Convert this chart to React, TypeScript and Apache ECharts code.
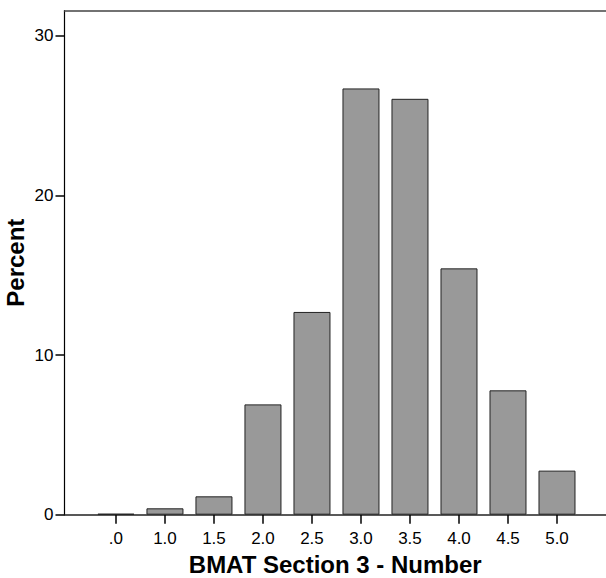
import React, { useEffect, useRef } from "react";
import * as echarts from "echarts";

const categories = [".0", "1.0", "1.5", "2.0", "2.5", "3.0", "3.5", "4.0", "4.5", "5.0"];
const percents = [0.06, 0.4, 1.15, 6.91, 12.7, 26.7, 26.05, 15.43, 7.79, 2.76];
const yTicks = [0, 10, 20, 30];
const xTitle = "BMAT Section 3 - Number";
const yTitle = "Percent";

export default function App() {
  const ref = useRef<HTMLDivElement>(null);
  useEffect(() => {
    if (!ref.current) return;
    const chart = echarts.init(ref.current, null, { renderer: "svg" });
    const font = "'Liberation Sans', Arial, sans-serif";
    const idx = categories.map((_, i) => i);
    chart.setOption({
      animation: false,
      backgroundColor: "#ffffff",
      grid: {
        left: 64.5,
        right: 0,
        top: 10.7,
        bottom: 63.3,
        containLabel: false,
        outerBoundsMode: "none",
      },
      xAxis: [
        {
          type: "value",
          min: -1.05,
          max: 10,
          splitLine: { show: false },
          axisLine: { show: true, onZero: false, lineStyle: { color: "#222", width: 1.5 } },
          axisTick: { show: true, customValues: idx, length: 9, lineStyle: { color: "#000", width: 1.5 } },
          axisLabel: {
            customValues: idx,
            formatter: (v: number) => categories[Math.round(v)] ?? "",
            color: "#000",
            fontSize: 17,
            fontFamily: font,
            margin: 15,
          },
          name: xTitle,
          nameLocation: "middle",
          nameGap: 38,
          nameTextStyle: { color: "#000", fontSize: 24, fontWeight: "bold", fontFamily: font },
        },
        {
          type: "value",
          position: "top",
          min: -1.05,
          max: 10,
          splitLine: { show: false },
          axisLine: { show: true, onZero: false, lineStyle: { color: "#444", width: 1.5 } },
          axisTick: { show: false },
          axisLabel: { show: false },
        },
      ],
      yAxis: {
        type: "value",
        min: 0,
        max: 31.57,
        interval: 10,
        splitLine: { show: false },
        axisLine: { show: true, onZero: false, lineStyle: { color: "#000", width: 1.2 } },
        axisTick: { show: true, customValues: yTicks, length: 9, lineStyle: { color: "#000", width: 1.5 } },
        axisLabel: {
          customValues: yTicks,
          color: "#000",
          fontSize: 17,
          fontFamily: font,
          margin: 11,
        },
        name: yTitle,
        nameLocation: "middle",
        nameGap: 37,
        nameMoveOverlap: false,
        nameTextStyle: { color: "#000", fontSize: 24, fontWeight: "bold", fontFamily: font },
      },
      series: [
        {
          type: "bar",
          xAxisIndex: 0,
          barWidth: 37,
          data: percents.map((v, i) => [i, v]),
          itemStyle: { color: "#999999", borderColor: "#222", borderWidth: 1 },
        },
      ],
    });
    return () => chart.dispose();
  }, []);
  return (
    <div
      ref={ref}
      style={{ position: "fixed", left: 0, top: 0, width: 606, height: 578, background: "#fff" }}
    />
  );
}
